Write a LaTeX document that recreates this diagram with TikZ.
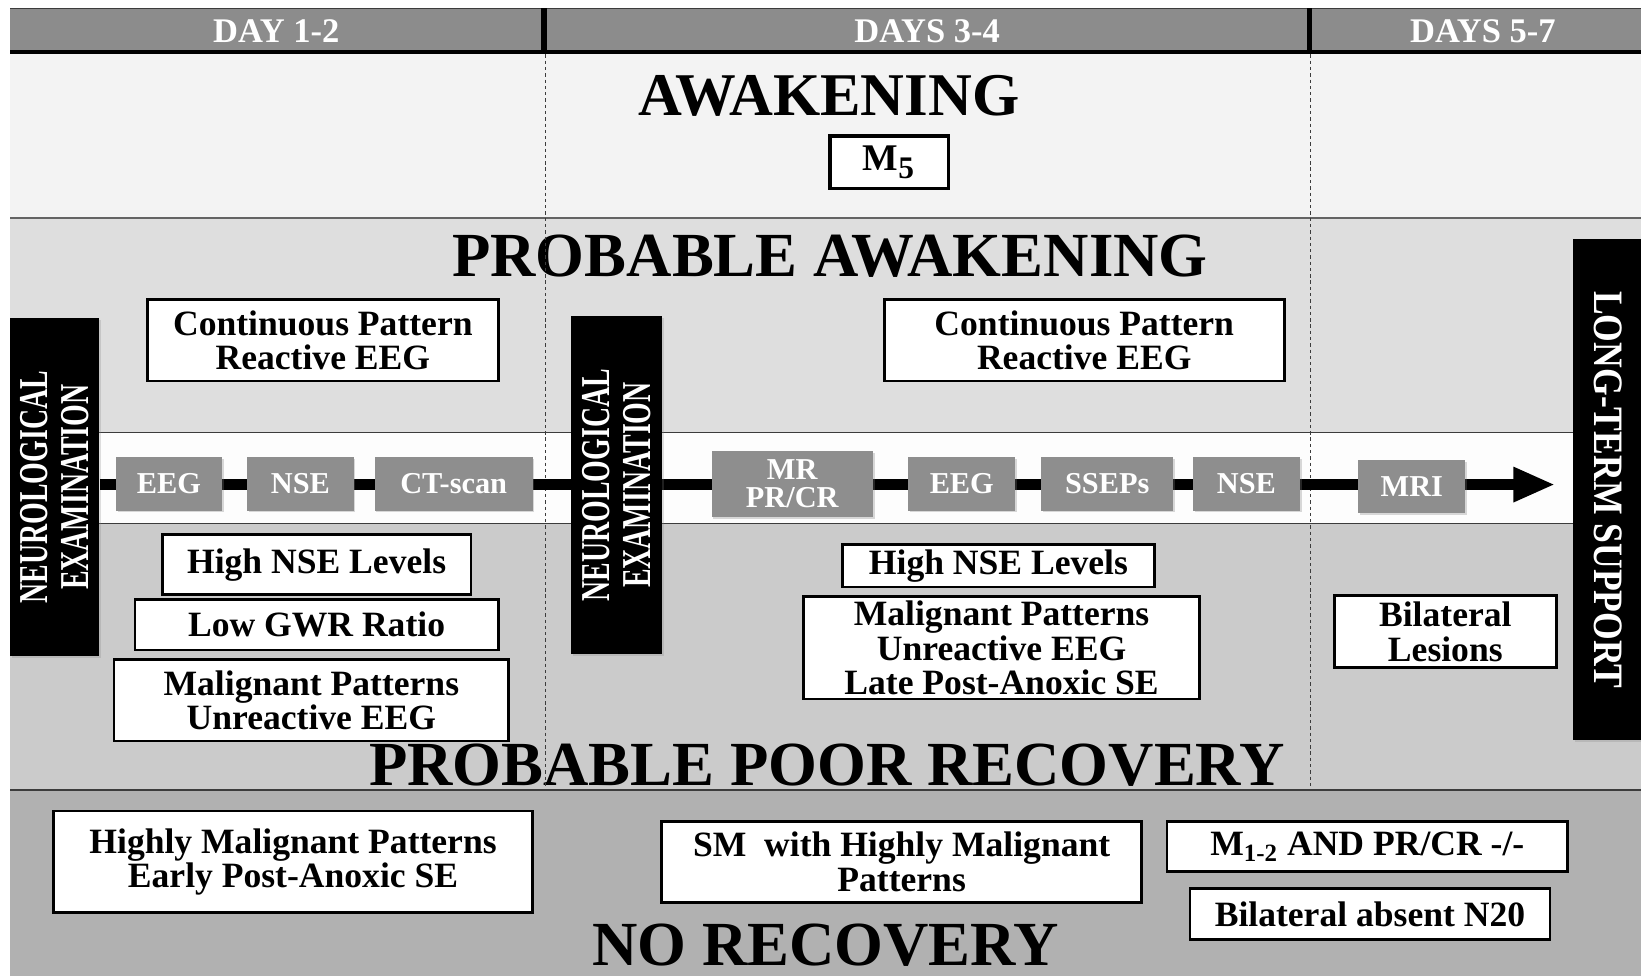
\documentclass[tikz,border=0pt]{standalone}
\usepackage{fontspec}
\setmainfont{Liberation Serif}
\usepackage{graphicx}
\usetikzlibrary{arrows.meta,shadows}

\definecolor{hdrgrey}{HTML}{8C8C8C}
\definecolor{rA}{HTML}{F3F3F3}
\definecolor{rB}{HTML}{DEDEDE}
\definecolor{rT}{HTML}{FDFDFD}
\definecolor{rC}{HTML}{CBCBCB}
\definecolor{rD}{HTML}{B1B1B1}
\definecolor{gbox}{HTML}{8E8E8E}
\definecolor{rulecol}{HTML}{3C3C3C}

\tikzset{
  sz/.style 2 args={minimum width=#1*0.5pt, minimum height=#2*0.5pt},
  wbox/.style={draw=black, line width=1.3pt, fill=white, inner sep=0pt, align=center,
    font=\bfseries\fontsize{17}{16.5}\selectfont},
  gbx/.style={fill=gbox, text=white, inner sep=0pt, align=center,
    font=\bfseries\fontsize{14.5}{13.5}\selectfont,
    drop shadow={opacity=0.3, shadow xshift=0.8pt, shadow yshift=-0.8pt}},
  barbox/.style={fill=black, inner sep=0pt,
    drop shadow={opacity=0.25, shadow xshift=0.8pt, shadow yshift=-0.8pt}},
  bartext/.style={text=white, align=center, inner sep=0pt,
    font=\bfseries\fontsize{19.6}{19.5}\selectfont},
  titletext/.style={anchor=base, inner sep=0pt, font=\bfseries\fontsize{30}{30}\selectfont},
  hdrtext/.style={text=white, inner sep=0pt, font=\bfseries\fontsize{16.5}{16.5}\selectfont},
  divider/.style={draw=rulecol, line width=0.7pt},
  daysep/.style={draw=rulecol, line width=0.5pt, dash pattern=on 1.6pt off 1.4pt},
  tlline/.style={line width=5.2pt, -{Triangle[length=20pt,width=15.5pt]}},
}

\begin{document}
\begin{tikzpicture}[x=0.5pt,y=-0.5pt]
\useasboundingbox (0,0) rectangle (1568,933);

% ---- region backgrounds
\fill[rA] (10,52) rectangle (1568,208);
\fill[rB] (10,208) rectangle (1568,413);
\fill[rT] (10,413) rectangle (1568,500);
\fill[rC] (10,500) rectangle (1568,755);
\fill[rD] (10,755) rectangle (1568,933);
\draw[divider, line width=0.9pt, draw=rulecol!80] (10,208) -- (1568,208);
\draw[divider] (10,413) -- (1568,413);
\draw[divider] (10,500) -- (1568,500);
\draw[divider] (10,755) -- (1568,755);

% ---- header
\fill[hdrgrey] (10,8) rectangle (1568,50);
\draw[rulecol, line width=0.6pt] (10,8) -- (1568,8);
\draw[black, line width=2pt] (10,50) -- (1568,50);
\draw[black, line width=2.6pt] (520,8) -- (520,51);
\draw[black, line width=2.6pt] (1251,8) -- (1251,51);
\node[hdrtext] (d12) at (264,30) {DAY 1-2};
\node[hdrtext] (d34) at (886,30) {DAYS 3-4};
\node[hdrtext] (d57) at (1417,30) {DAYS 5-7};

% ---- titles
\node[titletext, font=\bfseries\fontsize{29}{29}\selectfont] (tAw) at (792,110) {AWAKENING};
\node[titletext] (tPA) at (793,264) {PROBABLE AWAKENING};
\node[titletext] (tPP) at (790,751) {PROBABLE POOR RECOVERY};
\node[titletext] (tNR) at (789,923) {NO RECOVERY};

% ---- day separators
\draw[daysep] (521,52) -- (521,755);
\draw[daysep] (1252,52) -- (1252,755);

% ---- timeline
\node[barbox, sz={85}{323}] (neuro1) at (52.5,465.5) {};
\coordinate (tip) at (1486,463);
\draw[tlline] (neuro1.east |- tip) -- (tip);

\node[bartext, rotate=90] (neuro1t) at (neuro1) {\scalebox{0.68}[1]{NEUROLOGICAL}\\\scalebox{0.68}[1]{EXAMINATION}};
\node[barbox, sz={87}{323}] (neuro2) at (589.5,463.5) {};
\node[bartext, rotate=90] (neuro2t) at (neuro2) {\scalebox{0.68}[1]{NEUROLOGICAL}\\\scalebox{0.68}[1]{EXAMINATION}};
\node[barbox, sz={70}{479}, anchor=west] (lts) at (1503,467.5) {};
\node[bartext, rotate=-90, font=\bfseries\fontsize{20}{20}\selectfont] (ltst) at (1537,468) {\scalebox{0.85}[1]{LONG-TERM SUPPORT}};

\node[gbx, sz={101}{51}] (eeg1) at (161.5,462.5) {EEG};
\node[gbx, sz={102}{51}] (nse1) at (287,462.5) {NSE};
\node[gbx, sz={151}{51}] (ct) at (433.5,462.5) {CT-scan};
\node[gbx, sz={154}{63}] (mr) at (757,462.5) {MR\\PR/CR};
\node[gbx, sz={102}{51}] (eeg2) at (919,462.5) {EEG};
\node[gbx, sz={126}{51}] (sseps) at (1058,462.5) {SSEPs};
\node[gbx, sz={102}{51}] (nse2) at (1191,462.5) {NSE};
\node[gbx, sz={102}{50}] (mri) at (1349,465) {MRI};

% ---- awakening
\node[wbox, line width=1.5pt, sz={113}{50}, font=\bfseries\fontsize{18}{18}\selectfont] (m5) at (849.5,155) {M\textsubscript{\fontsize{15}{15}\selectfont 5}};

% ---- probable awakening
\node[wbox, sz={335}{78}] (cont1) at (308.5,325) {Continuous Pattern\\Reactive EEG};
\node[wbox, sz={382}{78}] (cont2) at (1036,325) {Continuous Pattern\\Reactive EEG};

% ---- probable poor recovery
\node[wbox, sz={295}{57}] (hnse1) at (302.5,539.5) {High NSE Levels};
\node[wbox, sz={347}{48}] (gwr) at (302.5,597) {Low GWR Ratio};
\node[wbox, sz={377}{78}] (mal1) at (297.5,669) {Malignant Patterns\\Unreactive EEG};
\node[wbox, sz={298}{41}] (hnse2) at (954,540.5) {High NSE Levels};
\node[wbox, sz={378}{98}] (mal2) at (957,619) {Malignant Patterns\\Unreactive EEG\\Late Post-Anoxic SE};
\node[wbox, sz={212}{69}] (bil) at (1381,603.5) {Bilateral\\Lesions};

% ---- no recovery
\node[wbox, sz={458}{97}] (hmal) at (280,823.5) {Highly Malignant Patterns\\Early Post-Anoxic SE};
\node[wbox, sz={459}{77}] (sm) at (861.5,823.5) {SM\ \ with Highly Malignant\\Patterns};
\node[wbox, sz={383}{48}] (m12) at (1306.5,809) {M\textsubscript{1-2} AND PR/CR -/-};
\node[wbox, sz={344}{49}] (n20) at (1309,873.5) {Bilateral absent N20};
\end{tikzpicture}
\end{document}
